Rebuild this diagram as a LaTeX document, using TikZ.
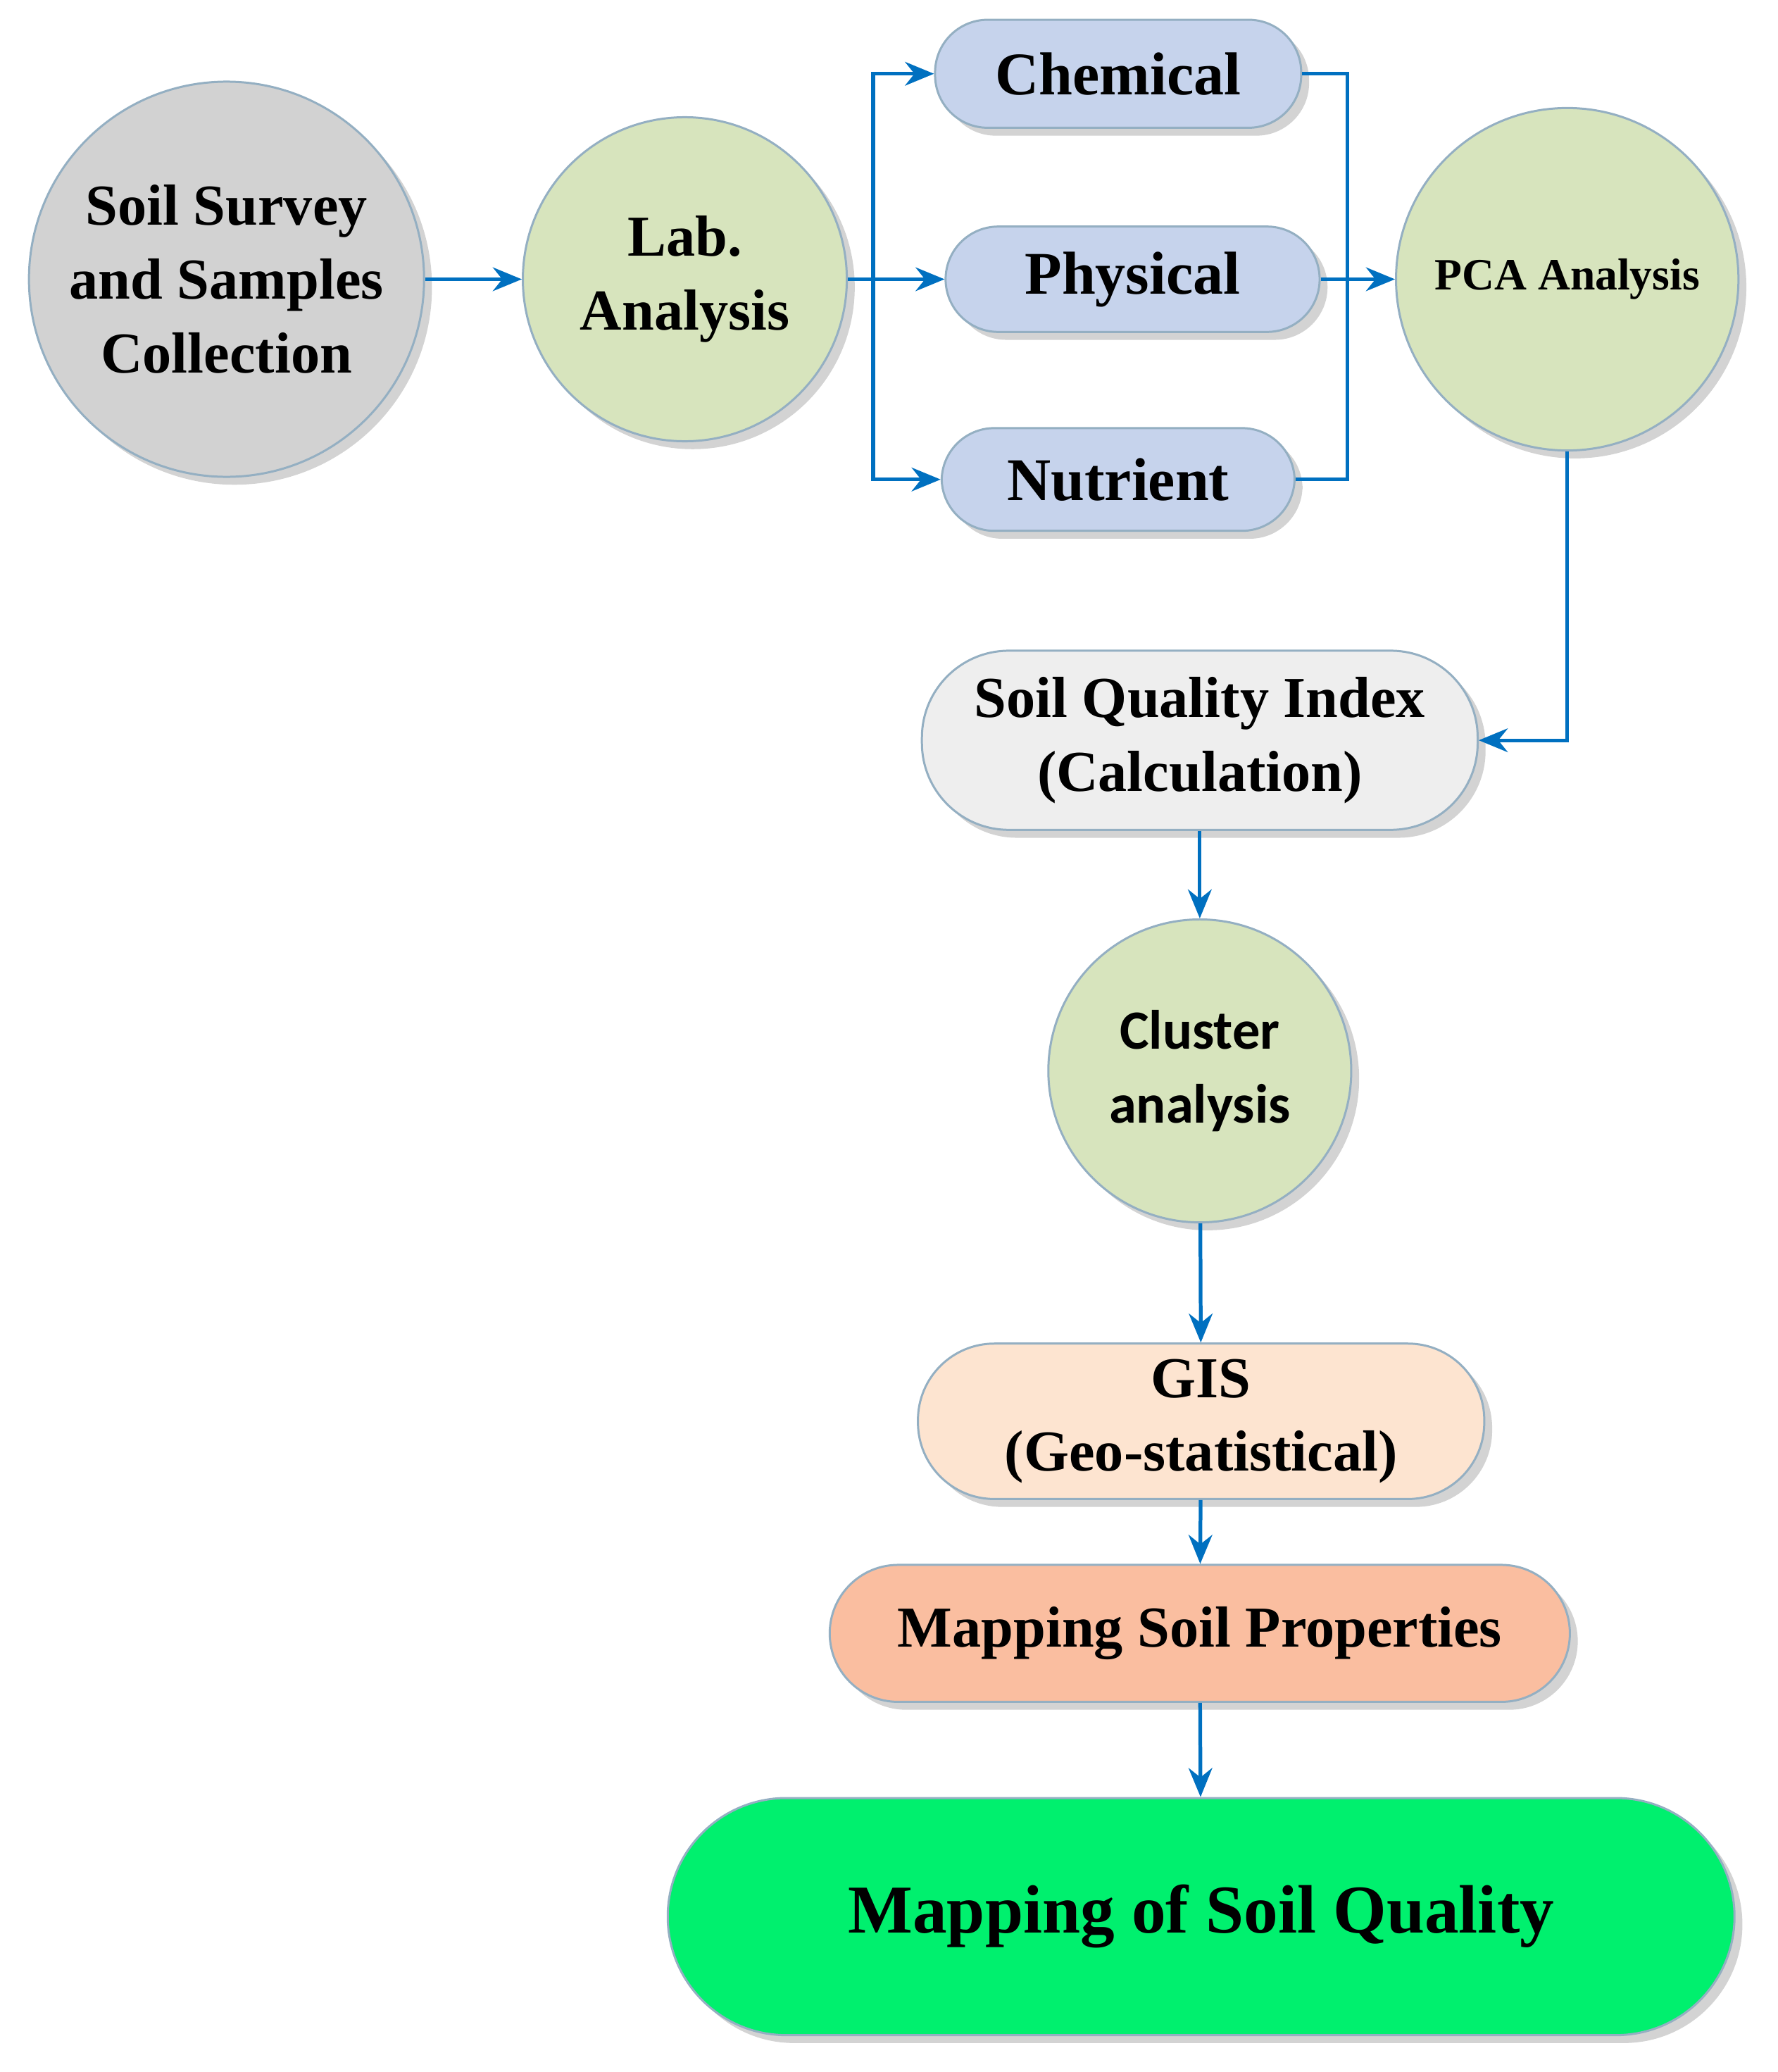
\documentclass[tikz,border=0pt]{standalone}
\usepackage{fontspec}
\setmainfont{Liberation Serif}
\newfontfamily\carl{Carlito}
\usetikzlibrary{shadows,arrows.meta}
\definecolor{arr}{RGB}{0,112,192}
\definecolor{grc}{RGB}{210,210,210}
\definecolor{grn}{RGB}{215,228,189}
\definecolor{blu}{RGB}{198,211,236}
\definecolor{lgr}{RGB}{238,238,238}
\definecolor{pch}{RGB}{253,228,208}
\definecolor{sal}{RGB}{250,190,160}
\definecolor{brg}{RGB}{0,240,110}
\begin{document}
\begin{tikzpicture}[x=0.5pt,y=-0.5pt,
  base/.style={draw=arr!40!gray!60, line width=0.8pt, drop shadow={opacity=0.35,shadow xshift=3pt,shadow yshift=-3pt}, align=center, font=\bfseries},
  circ/.style={base,circle,inner sep=0pt},
  box/.style={base,rounded corners=20pt,inner sep=0pt},
  ar/.style={draw=arr,line width=1.4pt,-{Stealth[length=11pt,width=9pt]}},
  ln/.style={draw=arr,line width=1.4pt}]
\useasboundingbox (0,0) rectangle (1350,1573);
\node[circ,fill=grc,minimum size=300pt*0.5,font=\bfseries\fontsize{22}{28}\selectfont] (soil) at (172,212) {Soil Survey\\and Samples\\Collection};
\node[circ,fill=grn,minimum size=246pt*0.5,font=\bfseries\fontsize{22}{28}\selectfont] (lab) at (520,212) {Lab.\\Analysis};
\node[box,fill=blu,minimum width=139pt,minimum height=41pt,font=\bfseries\fontsize{23}{28}\selectfont] (chem) at (849,56) {Chemical};
\node[box,fill=blu,minimum width=142pt,minimum height=40pt,font=\bfseries\fontsize{23}{28}\selectfont] (phys) at (860,212) {Physical};
\node[box,fill=blu,minimum width=134pt,minimum height=39pt,font=\bfseries\fontsize{23}{28}\selectfont] (nut) at (849,364) {Nutrient};
\node[circ,fill=grn,minimum size=130pt,font=\bfseries\fontsize{17}{22}\selectfont] (pca) at (1190,212) {PCA Analysis};
\node[box,fill=lgr,rounded corners=33pt,minimum width=211pt,minimum height=68pt,font=\bfseries\fontsize{22}{28}\selectfont] (sqi) at (911,562) {Soil Quality Index\\(Calculation)};
\node[circ,fill=grn,minimum size=115pt,font=\carl\bfseries\fontsize{21}{28}\selectfont] (clu) at (911,813) {Cluster\\analysis};
\node[box,fill=pch,rounded corners=29pt,minimum width=215pt,minimum height=59pt,font=\bfseries\fontsize{22}{28}\selectfont] (gis) at (912,1079) {GIS\\(Geo-statistical)};
\node[box,fill=sal,rounded corners=26pt,minimum width=281pt,minimum height=52pt,font=\bfseries\fontsize{22}{28}\selectfont] (msp) at (911,1240) {Mapping Soil Properties};
\node[box,fill=brg,rounded corners=45pt,minimum width=405pt,minimum height=90pt,font=\bfseries\fontsize{26}{32}\selectfont] (msq) at (912,1455) {Mapping of Soil Quality};
\coordinate (bl) at (663,212);
\coordinate (br) at (1023,212);
\draw[ar] (soil) -- (lab);
\draw[ar] (lab.east) -- (phys.west);
\draw[ar] (bl) |- (chem.west);
\draw[ar] (bl) |- (nut.west);
\draw[ln] (chem.east) -| (br);
\draw[ln] (nut.east) -| (br);
\draw[ar] (phys.east) -- (pca.west);
\draw[ar] (pca.south) |- (sqi.east);
\draw[ar] (sqi) -- (clu);
\draw[ar] (clu) -- (gis);
\draw[ar] (gis) -- (msp);
\draw[ar] (msp) -- (msq);
\end{tikzpicture}
\end{document}
